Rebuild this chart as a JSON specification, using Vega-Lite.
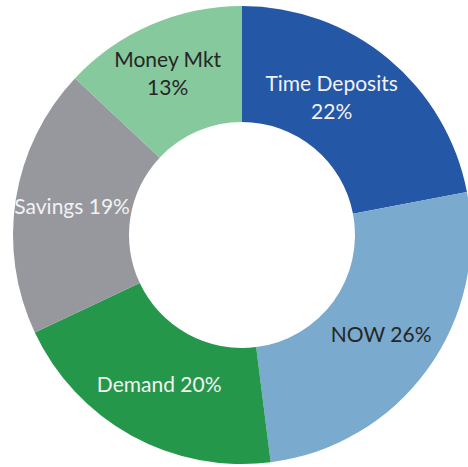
{
  "$schema": "https://vega.github.io/schema/vega-lite/v6.json",
  "autosize": {"type": "none"},
  "width": 484,
  "height": 470,
  "padding": 0,
  "background": "white",
  "config": {"view": {"stroke": null}},
  "data": {
    "values": [
      {"category": "Time Deposits", "pct": 22, "rank": 1, "label": "Time Deposits\n22%"},
      {"category": "NOW", "pct": 26, "rank": 2, "label": "NOW 26%"},
      {"category": "Demand", "pct": 20, "rank": 3, "label": "Demand 20%"},
      {"category": "Savings", "pct": 19, "rank": 4, "label": "Savings 19%"},
      {"category": "Money Mkt", "pct": 13, "rank": 5, "label": "Money Mkt\n13%"}
    ]
  },
  "encoding": {
    "theta": {"field": "pct", "type": "quantitative", "stack": true},
    "order": {"field": "rank", "type": "quantitative"}
  },
  "layer": [
    {
      "mark": {"type": "arc", "outerRadius": 229, "innerRadius": 113},
      "encoding": {
        "color": {
          "field": "category",
          "type": "nominal",
          "scale": {
            "domain": ["Time Deposits", "NOW", "Demand", "Savings", "Money Mkt"],
            "range": ["#2457A6", "#7AAACE", "#25974A", "#96989E", "#86C99D"]
          },
          "legend": null
        }
      }
    },
    {
      "mark": {"type": "text", "radius": 172, "font": "Lato", "fontSize": 21, "lineBreak": "\n", "lineHeight": 28, "align": "center", "baseline": "middle"},
      "encoding": {
        "text": {
          "condition": {"test": "datum.category === 'NOW' || datum.category === 'Demand' || datum.category === 'Savings'", "field": "label"},
          "value": ""
        },
        "color": {
          "condition": {"test": "datum.category === 'NOW'", "value": "#262626"},
          "value": "#F2F2F2"
        }
      }
    },
    {
      "mark": {"type": "text", "radius": 172, "dx": -20, "dy": -17, "font": "Lato", "fontSize": 21, "lineBreak": "\n", "lineHeight": 28, "align": "center", "baseline": "middle", "color": "#F2F2F2"},
      "encoding": {
        "text": {
          "condition": {"test": "datum.category === 'Time Deposits'", "field": "label"},
          "value": ""
        }
      }
    },
    {
      "mark": {"type": "text", "radius": 172, "dx": -6, "dy": -16, "font": "Lato", "fontSize": 21, "lineBreak": "\n", "lineHeight": 28, "align": "center", "baseline": "middle", "color": "#262626"},
      "encoding": {
        "text": {
          "condition": {"test": "datum.category === 'Money Mkt'", "field": "label"},
          "value": ""
        }
      }
    }
  ]
}
